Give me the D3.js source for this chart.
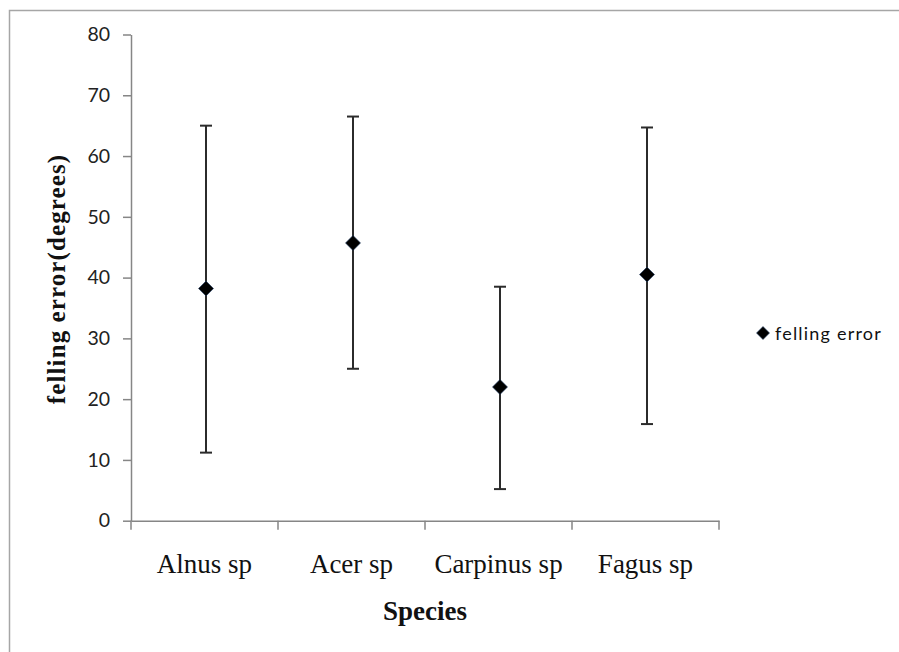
<!DOCTYPE html>
<html><head><meta charset="utf-8">
<script src="https://cdn.jsdelivr.net/npm/d3@7"></script>
<style>body{margin:0;background:#fff}svg{display:block}</style>
</head><body>
<script>
const categories = ["Alnus sp", "Acer sp", "Carpinus sp", "Fagus sp"];
const means = [38.2, 45.7, 22.0, 40.5];
const upper = [65.0, 66.5, 38.5, 64.7];
const lower = [11.2, 25.0, 5.2, 15.9];
const yTicks = [0, 10, 20, 30, 40, 50, 60, 70, 80];
const seriesName = "felling error";

const W = 899, H = 652;
const svg = d3.select("body").append("svg").attr("width", W).attr("height", H);

svg.append("rect").attr("x", 9.5).attr("y", 10.5).attr("width", W).attr("height", H)
  .attr("fill", "none").attr("stroke", "#a6a6a6").attr("stroke-width", 1.5);

const x0 = 131, x1 = 719, yTop = 34.5, yBot = 520.7;
const x = d3.scaleBand().domain(categories).range([x0, x1]).padding(0);
const y = d3.scaleLinear().domain([0, 80]).range([yBot, yTop]);

// y axis
const gy = svg.append("g").attr("transform", `translate(${x0},0)`)
  .call(d3.axisLeft(y).tickValues(yTicks).tickSize(8).tickPadding(13).tickSizeOuter(0));
gy.select(".domain").attr("stroke", "#868686").attr("stroke-width", 1.5);
gy.selectAll(".tick line").attr("stroke", "#868686").attr("stroke-width", 1.5);
gy.selectAll(".tick text").attr("font-family", "Lato, 'Open Sans', sans-serif").attr("font-size", 19.5).attr("fill", "#222");

// x axis
const gx = svg.append("g").attr("transform", `translate(0,${yBot})`)
  .call(d3.axisBottom(x).tickSize(0).tickPadding(0).tickFormat(""));
gx.select(".domain").attr("stroke", "#868686").attr("stroke-width", 1.5);
gx.selectAll(".tick").remove();
const bounds = categories.map(c => x(c)).concat([x1]);
svg.append("g").selectAll("line").data(bounds).join("line")
  .attr("x1", d => d).attr("x2", d => d).attr("y1", yBot).attr("y2", yBot + 9)
  .attr("stroke", "#868686").attr("stroke-width", 1.5);

svg.append("g").selectAll("text").data(categories).join("text")
  .attr("x", d => x(d) + x.bandwidth() / 2).attr("y", 573)
  .attr("text-anchor", "middle")
  .attr("font-family", "'Liberation Serif', 'Times New Roman', serif").attr("font-size", 27)
  .attr("fill", "#111").text(d => d);

// error bars
const cx = d => x(d) + x.bandwidth() / 2 + 1.5;
const eb = svg.append("g").attr("stroke", "#2b2b2b").attr("stroke-width", 2);
categories.forEach((c, i) => {
  eb.append("line").attr("x1", cx(c)).attr("x2", cx(c)).attr("y1", y(upper[i])).attr("y2", y(lower[i]));
  eb.append("line").attr("x1", cx(c) - 6).attr("x2", cx(c) + 6).attr("y1", y(upper[i])).attr("y2", y(upper[i]));
  eb.append("line").attr("x1", cx(c) - 6).attr("x2", cx(c) + 6).attr("y1", y(lower[i])).attr("y2", y(lower[i]));
});

const diamond = (px, py, r) => `M${px},${py - r}L${px + r},${py}L${px},${py + r}L${px - r},${py}Z`;
svg.append("g").selectAll("path").data(categories).join("path")
  .attr("d", (d, i) => diamond(cx(d), y(means[i]), 7.5))
  .attr("fill", "#000").attr("stroke", "#1f3b63").attr("stroke-width", 0.6);

// legend
svg.append("path").attr("d", diamond(763, 333, 6.5)).attr("fill", "#000")
  .attr("stroke", "#1f3b63").attr("stroke-width", 0.6);
svg.append("text").attr("x", 775).attr("y", 339.5)
  .attr("font-family", "Lato, 'Open Sans', sans-serif").attr("font-size", 18).attr("fill", "#111")
  .attr("letter-spacing", 1.2)
  .text(seriesName);

// axis titles
svg.append("text").attr("x", 425).attr("y", 620).attr("text-anchor", "middle")
  .attr("font-family", "'Liberation Serif', 'Times New Roman', serif").attr("font-size", 27)
  .attr("font-weight", "bold").attr("fill", "#111").text("Species");

svg.append("text").attr("transform", "translate(65,279) rotate(-90)").attr("text-anchor", "middle")
  .attr("font-family", "'Liberation Serif', 'Times New Roman', serif").attr("font-size", 25)
  .attr("font-weight", "bold").attr("fill", "#111").attr("letter-spacing", 1.1)
  .text("felling error(degrees)");
</script>
</body></html>
